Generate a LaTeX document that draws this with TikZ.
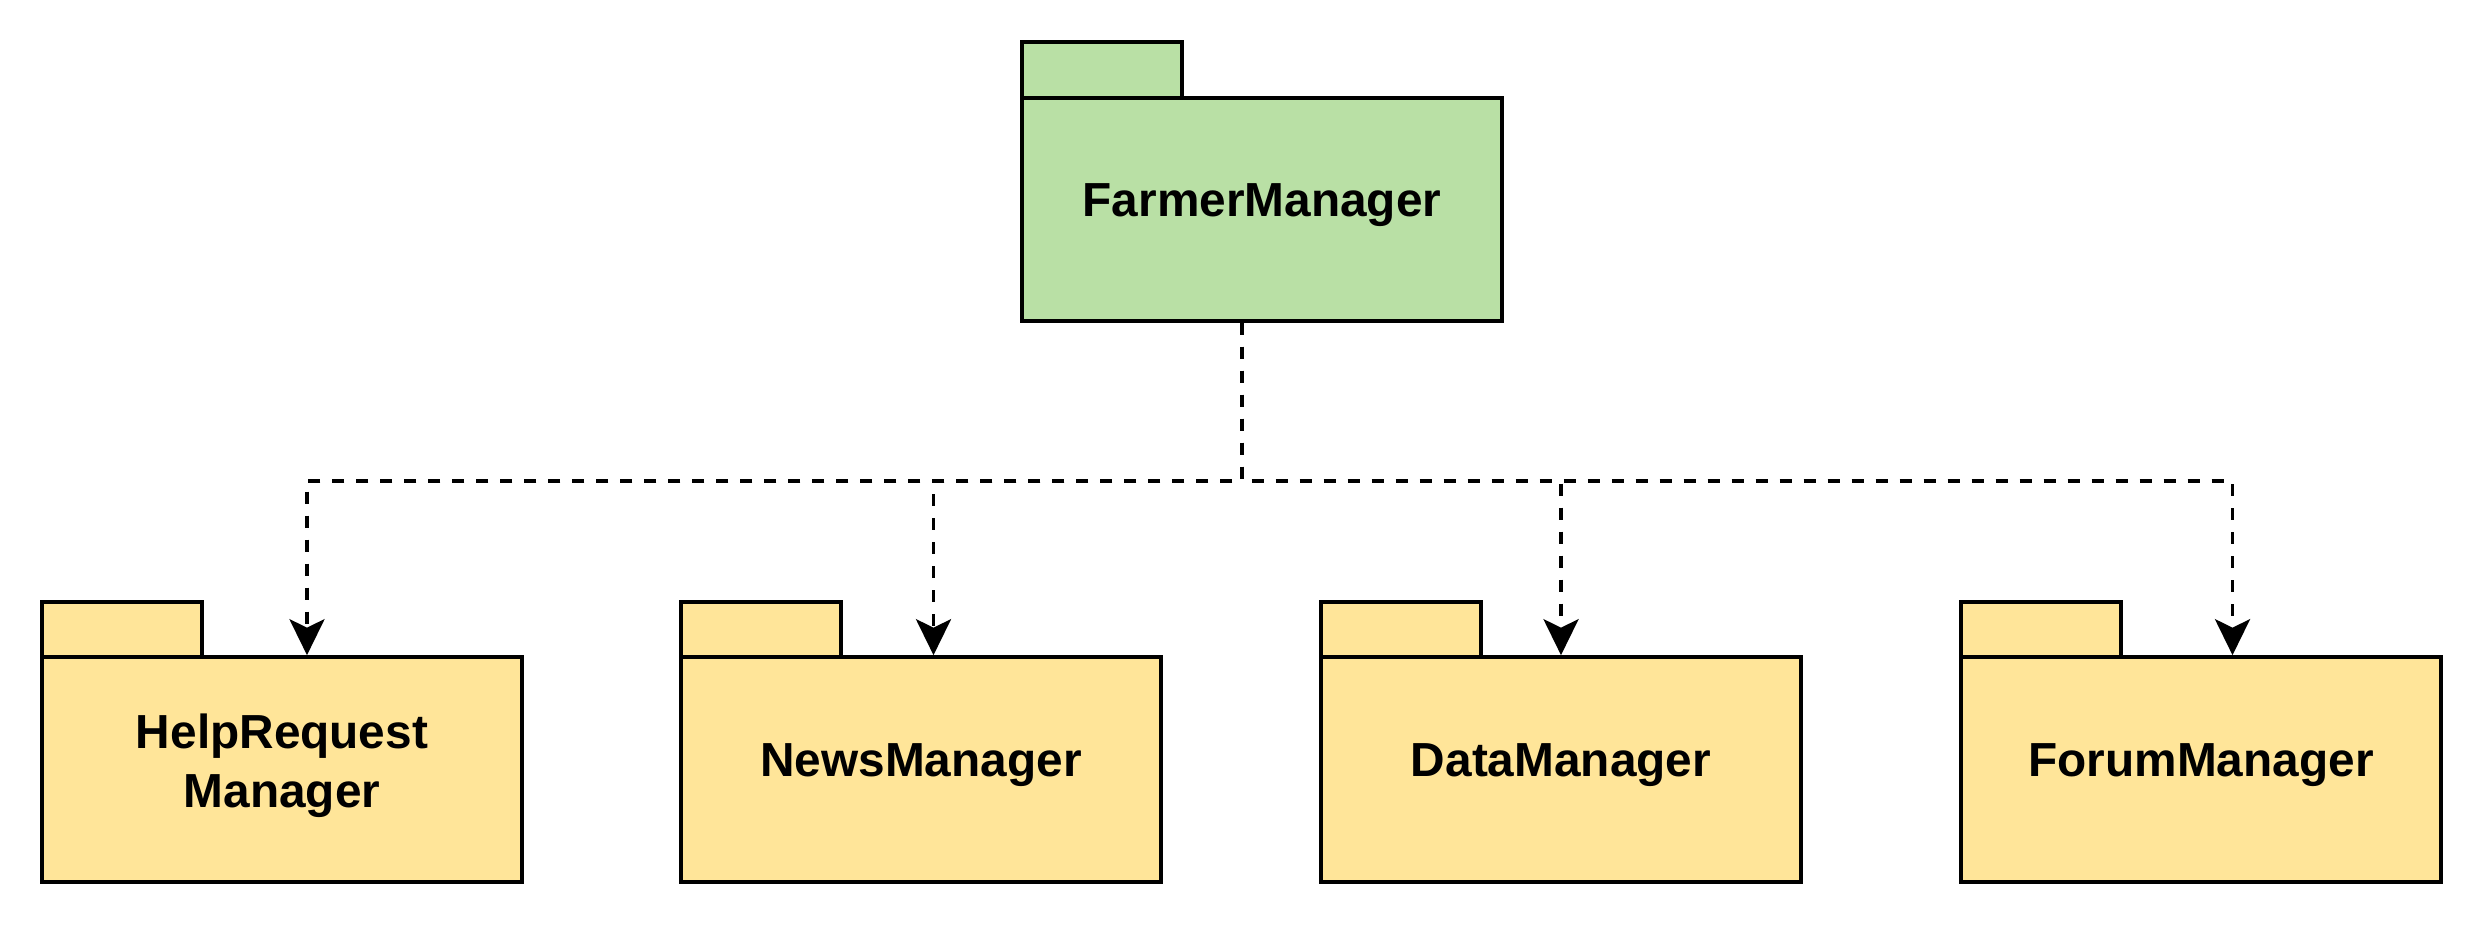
\documentclass[tikz,border=0pt]{standalone}
\usepackage{fontspec}
\setmainfont{Liberation Sans}
\usetikzlibrary{arrows.meta}
\definecolor{pkggreen}{HTML}{B9E0A5}
\definecolor{pkgyellow}{HTML}{FFE599}
\tikzset{
  pkgbody/.style={draw=black, line width=2.1pt, minimum width=9.6cm, minimum height=4.5cm, inner sep=0pt},
  pkgtab/.style={draw=black, line width=2.1pt, minimum width=3.2cm, minimum height=1.1cm, inner sep=0pt},
  pkglabel/.style={font=\bfseries\fontsize{27.2pt}{33.6pt}\selectfont, align=center, inner sep=0pt},
  dep/.style={line width=2.2pt, dash pattern=on 0.24cm off 0.24cm,
    -{Stealth[length=0.72cm,width=0.7cm,inset=0.17cm]}},
}
\begin{document}
\begin{tikzpicture}[x=0.02cm,y=-0.02cm]
\useasboundingbox (0,0) rectangle (2484,924);
% top package
\node[pkgtab, fill=pkggreen, minimum height=1.12cm] (ftab) at (1102,70) {};
\node[pkgbody, fill=pkggreen, minimum height=4.46cm] (fbody) at (1262,209.5) {};
\node[pkglabel, anchor=base] (flabel) at (1262,216) {FarmerManager};
% bottom packages
\node[pkgtab, fill=pkgyellow] (hrtab) at (122,629.5) {};
\node[pkgbody, fill=pkgyellow] (hrbody) at (282,769.5) {};
\node[pkglabel] (hrlabel) at (282,766) {HelpRequest\\Manager};
\node[pkgtab, fill=pkgyellow] (nwtab) at (761,629.5) {};
\node[pkgbody, fill=pkgyellow] (nwbody) at (921,769.5) {};
\node[pkglabel, anchor=base] (nwlabel) at (921,776) {NewsManager};
\node[pkgtab, fill=pkgyellow] (dttab) at (1401,629.5) {};
\node[pkgbody, fill=pkgyellow] (dtbody) at (1561,769.5) {};
\node[pkglabel, anchor=base] (dtlabel) at (1561,776) {DataManager};
\node[pkgtab, fill=pkgyellow] (fmtab) at (2041,629.5) {};
\node[pkgbody, fill=pkgyellow] (fmbody) at (2201,769.5) {};
\node[pkglabel, anchor=base] (fmlabel) at (2201,776) {ForumManager};
% connectors
\coordinate (junc) at (1242,481);
\draw[dep] (fbody.south -| junc) -- (junc) -| ([xshift=0.5cm]hrbody.north);
\draw[dep] (fbody.south -| junc) -- (junc) -| ([xshift=0.25cm]nwbody.north);
\draw[dep] (fbody.south -| junc) -- (junc) -| (dtbody.north);
\draw[dep] (fbody.south -| junc) -- (junc) -| ([xshift=0.63cm]fmbody.north);
\end{tikzpicture}
\end{document}
